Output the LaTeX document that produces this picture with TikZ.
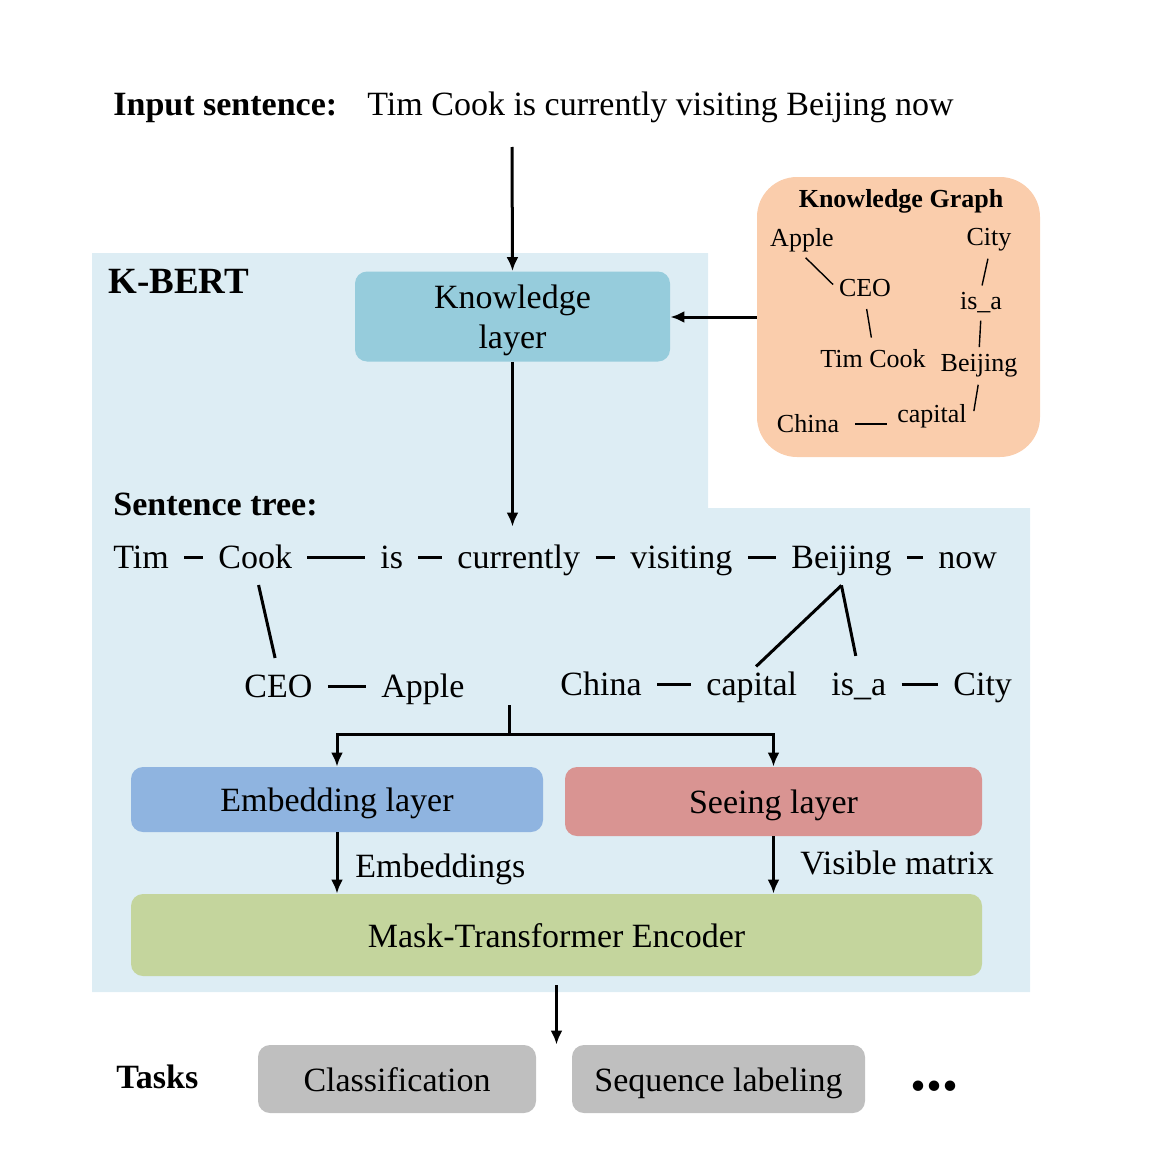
\documentclass[tikz,border=0pt]{standalone}
\usepackage{fontspec}
\setmainfont{Liberation Serif}
\usetikzlibrary{arrows.meta}

\definecolor{kbertbg}{RGB}{221,237,244}
\definecolor{klblue}{RGB}{150,204,220}
\definecolor{kgorange}{RGB}{250,205,172}
\definecolor{embblue}{RGB}{143,180,224}
\definecolor{seered}{RGB}{217,148,146}
\definecolor{mtegreen}{RGB}{196,213,157}
\definecolor{taskgray}{RGB}{191,191,191}

\begin{document}
\begin{tikzpicture}[x=0.5pt,y=-0.5pt,
 every node/.style={font=\fontsize{17}{20}\selectfont},
 head/.style={font=\fontsize{17}{20}\selectfont\bfseries,anchor=base west,inner sep=0},
 plain/.style={anchor=base west,inner sep=0},
 layer box/.style={rounded corners=6pt,inner sep=0,align=center,text depth=0pt},
 one line/.style={text height=12pt},
 word/.style={anchor=west,inner sep=0,text height=12pt,text depth=1pt},
 kg word/.style={font=\fontsize{13}{15}\selectfont,inner sep=1pt},
 link/.style={line width=1.5pt,shorten <=7.5pt,shorten >=7.5pt},
 kg link/.style={line width=0.7pt,shorten <=2.5pt,shorten >=2.5pt},
 arrow/.style={line width=1.5pt,-{Latex[length=7pt,width=6pt]}}]
 \useasboundingbox (0,0) rectangle (1150,1172);

 % K-BERT area
 \fill[kbertbg] (92,253) -- (708,253) -- (708,508) -- (1030,508)
   -- (1030,992) -- (92,992) -- cycle;

 \node[head](inp) at (113,116) {Input sentence:};
 \node[plain](sent) at (367,116) {Tim Cook is currently visiting Beijing now};
 \node[head,font=\fontsize{18.5}{20}\selectfont\bfseries](kbert) at (108,293) {K-BERT};

 \node[layer box,fill=klblue,minimum width=157.5pt,minimum height=45pt](kl)
   at (512.5,316.5) {Knowledge\\layer};

 % knowledge graph
 \node[layer box,fill=kgorange,rounded corners=20pt,minimum width=141.5pt,
   minimum height=140pt](kg) at (898.5,317) {};
 \node[kg word,font=\fontsize{13}{15}\selectfont\bfseries](kgtitle) at (901,201) {Knowledge Graph};
 \foreach \n/\t/\x/\y in {apple/Apple/802/240, city/City/989/240, ceo/CEO/865/288,
     isa/is\_a/981/303, tc/Tim Cook/873/359, bj/Beijing/979/366,
     china/China/808/424, cap/capital/932/416}{
   \node[kg word](\n) at (\x,\y) {\t};}
 \draw[kg link] (apple.south) -- (ceo.west);
 \draw[kg link,shorten <=5pt,shorten >=5pt] (ceo.south) -- (tc.north);
 \draw[kg link] (city.south) -- (isa.north);
 \draw[kg link] (isa.south) -- (bj.north);
 \draw[kg link] (bj.south) -- ([xshift=2pt]cap.east);
 \draw[kg link,shorten <=7pt,shorten >=4pt] (china.east) -- (china.east -| cap.west);

 \draw[arrow] (kg.west) -- (kl.east |- kg.west);
 \coordinate (in) at (512,147);
 \draw[arrow] (in) -- (kl.north);

 % sentence tree
 \node[head](st) at (113,515) {Sentence tree:};
 \foreach \n/\t/\x in {tim/Tim/113, cook/Cook/218, is/is/380, cur/currently/457,
     vis/visiting/630, beij/Beijing/791, now/now/938}{
   \node[word](\n) at (\x,557) {\t};}
 \foreach \n/\t/\x in {tceo/CEO/244, tapple/Apple/381}{
   \node[word](\n) at (\x,686) {\t};}
 \foreach \n/\t/\x in {tchina/China/560, tcap/capital/706, tisa/is\_a/831, tcity/City/953}{
   \node[word](\n) at (\x,684) {\t};}
 \foreach \s/\t in {tim/cook, cook/is, is/cur, cur/vis, vis/beij, beij/now,
     tceo/tapple, tchina/tcap, tisa/tcity}{
   \draw[link] (\s) -- (\t);}
 \draw[link] (cook.south) -- (tceo.north);
 \coordinate (apex) at ([yshift=-7.5pt]beij.south);
 \draw[link,shorten <=0pt,shorten >=3pt] (apex) -- (tcap.north);
 \draw[link,shorten <=0pt] (apex) -- (tisa.north);

 \draw[arrow,shorten >=8.5pt] (kl.south) -- (kl.south |- cur.north);

 % layers
 \node[layer box,one line,fill=embblue,minimum width=206pt,minimum height=32.5pt](emb)
   at (337,799.5) {Embedding layer};
 \node[layer box,one line,fill=seered,minimum width=208.5pt,minimum height=34.5pt](see)
   at (773.5,801.5) {Seeing layer};
 \node[layer box,one line,fill=mtegreen,minimum width=425.5pt,minimum height=41pt](mte)
   at (556.5,935) {Mask-Transformer Encoder};

 \coordinate (fork) at (509,705);
 \draw[line width=1.5pt] (fork) -- ++(0,29) coordinate (split);
 \draw[arrow] (split) -| (emb.north);
 \draw[arrow] (split) -| (see.north);

 \draw[arrow] (emb.south) -- (emb.south |- mte.north);
 \draw[arrow] (see.south) -- (see.south |- mte.north);
 \node[plain](embl) at (355,877) {Embeddings};
 \node[plain](visl) at (800,874) {Visible matrix};

 % tasks
 \node[head](tasks) at (116,1088) {Tasks};
 \node[layer box,one line,fill=taskgray,minimum width=139pt,minimum height=34pt](cls)
   at (397,1079) {Classification};
 \node[layer box,one line,fill=taskgray,minimum width=146.5pt,minimum height=34pt](seq)
   at (718.5,1079) {Sequence labeling};
 \node[plain,font=\fontsize{32}{34}\selectfont\bfseries](dots) at (910,1090) {...};
 \draw[arrow,shorten <=4.5pt] (mte.south) -- (mte.south |- cls.north);
\end{tikzpicture}
\end{document}
